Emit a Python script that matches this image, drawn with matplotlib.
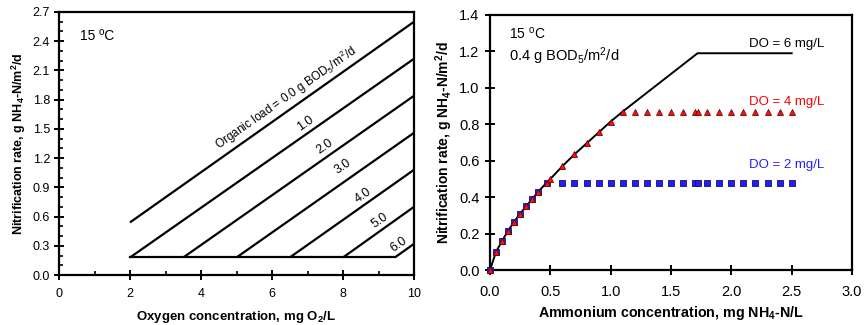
import numpy as np
import matplotlib
matplotlib.use("Agg")
import matplotlib.pyplot as plt
from matplotlib.ticker import MultipleLocator

plt.rcParams['font.family'] = ['Liberation Sans', 'DejaVu Sans']
plt.rcParams['mathtext.fontset'] = 'custom'
plt.rcParams['mathtext.rm'] = 'Liberation Sans'
plt.rcParams['mathtext.it'] = 'Liberation Sans:italic'
plt.rcParams['mathtext.bf'] = 'Liberation Sans:bold'

# ---- left panel: nitrification rate vs oxygen, per organic load ----
load_labels = ["Organic load = 0.0 g BOD$_5$/m$^2$/d", "1.0", "2.0", "3.0", "4.0", "5.0", "6.0"]
line_x0 = [2.0, 2.0, 3.5, 5.0, 6.5, 8.0, 9.46]
line_y0 = [0.54, 0.18, 0.18, 0.18, 0.18, 0.18, 0.18]
line_x1 = [10, 10, 10, 10, 10, 10, 10]
line_y1 = [2.60, 2.22, 1.84, 1.46, 1.08, 0.70, 0.32]
base_x = [2.0, 9.46]
base_y = [0.18, 0.18]
label_x = [6.4, 6.93, 7.49, 8.0, 8.57, 9.04, 9.56]
label_y = [1.82, 1.55, 1.32, 1.11, 0.82, 0.56, 0.31]

# ---- right panel: nitrification rate vs ammonium ----
do6_x = [0, 0.05, 0.1, 0.15, 0.2, 0.25, 0.3, 0.35, 0.4, 0.47, 0.5, 0.6, 0.7, 0.8, 0.9, 1.0, 1.1, 1.72, 2.5]
do6_y = [0, 0.10, 0.16, 0.215, 0.265, 0.31, 0.35, 0.39, 0.43, 0.48, 0.50, 0.57, 0.635, 0.695, 0.755, 0.815, 0.87, 1.19, 1.19]

do4_x = [0, 0.05, 0.1, 0.15, 0.2, 0.25, 0.3, 0.35, 0.4, 0.47, 0.5, 0.6, 0.7, 0.8, 0.9, 1.0, 1.1,
         1.2, 1.3, 1.4, 1.5, 1.6, 1.7, 1.72, 1.8, 1.9, 2.0, 2.1, 2.2, 2.3, 2.4, 2.5]
do4_y = [0, 0.10, 0.16, 0.215, 0.265, 0.31, 0.35, 0.39, 0.43, 0.48, 0.50, 0.57, 0.635, 0.695, 0.755, 0.815, 0.87,
         0.87, 0.87, 0.87, 0.87, 0.87, 0.87, 0.87, 0.87, 0.87, 0.87, 0.87, 0.87, 0.87, 0.87, 0.87]

do2_x = [0, 0.05, 0.1, 0.15, 0.2, 0.25, 0.3, 0.35, 0.4, 0.47,
         0.6, 0.7, 0.8, 0.9, 1.0, 1.1, 1.2, 1.3, 1.4, 1.5, 1.6, 1.7, 1.72, 1.8, 1.9, 2.0, 2.1, 2.2, 2.3, 2.4, 2.5]
do2_y = [0, 0.10, 0.16, 0.215, 0.265, 0.31, 0.35, 0.39, 0.43, 0.48,
         0.48, 0.48, 0.48, 0.48, 0.48, 0.48, 0.48, 0.48, 0.48, 0.48, 0.48, 0.48, 0.48, 0.48, 0.48, 0.48, 0.48, 0.48, 0.48, 0.48, 0.48]

fig = plt.figure(figsize=(8.65, 3.25), dpi=100)
ax1 = fig.add_axes([59/865, 1-275/325, 355/865, 263/325])
ax2 = fig.add_axes([490/865, 1-270/325, 362/865, 255/325])

for ax in (ax1, ax2):
    for s in ax.spines.values():
        s.set_linewidth(1.6)

# left
for i in range(len(line_x0)):
    ax1.plot([line_x0[i], line_x1[i]], [line_y0[i], line_y1[i]], color='black', lw=1.6,
             solid_capstyle='butt', clip_on=False)
ax1.plot(base_x, base_y, color='black', lw=1.6)
ang = np.degrees(np.arctan((line_y1[1] - line_y0[1]) / (line_x1[1] - line_x0[1])))
for i, lab in enumerate(load_labels):
    ax1.text(label_x[i], label_y[i], lab, fontsize=8.5 if i == 0 else 9, rotation=ang,
             transform_rotates_text=True, rotation_mode='anchor', ha='center', va='center')
ax1.text(0.6, 2.45, "15 ºC", fontsize=10, va='center')

ax1.set_xlim(0, 10)
ax1.set_ylim(0, 2.7)
ax1.xaxis.set_major_locator(MultipleLocator(2))
ax1.xaxis.set_minor_locator(MultipleLocator(1))
ax1.yaxis.set_major_locator(MultipleLocator(0.3))
ax1.yaxis.set_minor_locator(MultipleLocator(0.1))
ax1.yaxis.set_major_formatter(matplotlib.ticker.FormatStrFormatter('%.1f'))
ax1.tick_params(which='major', direction='inout', length=7, width=1.4, labelsize=9, pad=3)
ax1.tick_params(axis='x', which='major', pad=6)
ax1.tick_params(which='minor', direction='in', length=3, width=1.2)
ax1.set_xlabel("Oxygen concentration, mg O$_\\mathbf{2}$/L", fontsize=9.5, fontweight='bold', labelpad=6)
ax1.set_ylabel("Nitrification rate, g NH$_\\mathbf{4}$-N/m$^\\mathbf{2}$/d", fontsize=9,
               fontweight='bold', labelpad=3)

# right
ax2.plot(do6_x, do6_y, color='black', lw=1.4, zorder=2)
ax2.plot(do2_x, do2_y, ls='none', marker='s', ms=4, mfc='#1f1fff', mec='#101060', mew=0.6, zorder=3,
         clip_on=False)
ax2.plot(do4_x, do4_y, ls='none', marker='^', ms=5, mfc='#ff1010', mec='#700000', mew=0.6, zorder=4,
         clip_on=False)
ax2.text(2.77, 1.24, "DO = 6 mg/L", fontsize=9.5, ha='right', va='center', color='black')
ax2.text(2.77, 0.925, "DO = 4 mg/L", fontsize=9.5, ha='right', va='center', color='#ff0000')
ax2.text(2.77, 0.575, "DO = 2 mg/L", fontsize=9.5, ha='right', va='center', color='#2020ff')
ax2.text(0.16, 1.30, "15 $^\\mathregular{o}$C", fontsize=10, va='center')
ax2.text(0.16, 1.175, "0.4 g BOD$_5$/m$^2$/d", fontsize=10.5, va='center')

ax2.set_xlim(0, 3.0)
ax2.set_ylim(0, 1.4)
ax2.xaxis.set_major_locator(MultipleLocator(0.5))
ax2.yaxis.set_major_locator(MultipleLocator(0.2))
ax2.xaxis.set_major_formatter(matplotlib.ticker.FormatStrFormatter('%.1f'))
ax2.yaxis.set_major_formatter(matplotlib.ticker.FormatStrFormatter('%.1f'))
ax2.tick_params(which='major', direction='inout', length=7, width=1.4, labelsize=10.5, pad=4)
ax2.tick_params(axis='x', which='major', pad=7)
ax2.set_xlabel("Ammonium concentration, mg NH$_\\mathbf{4}$-N/L", fontsize=10.3, fontweight='bold', labelpad=4)
ax2.set_ylabel("Nitrification rate, g NH$_\\mathbf{4}$-N/m$^\\mathbf{2}$/d", fontsize=10,
               fontweight='bold', labelpad=3)

fig.savefig("out.png", dpi=100)
